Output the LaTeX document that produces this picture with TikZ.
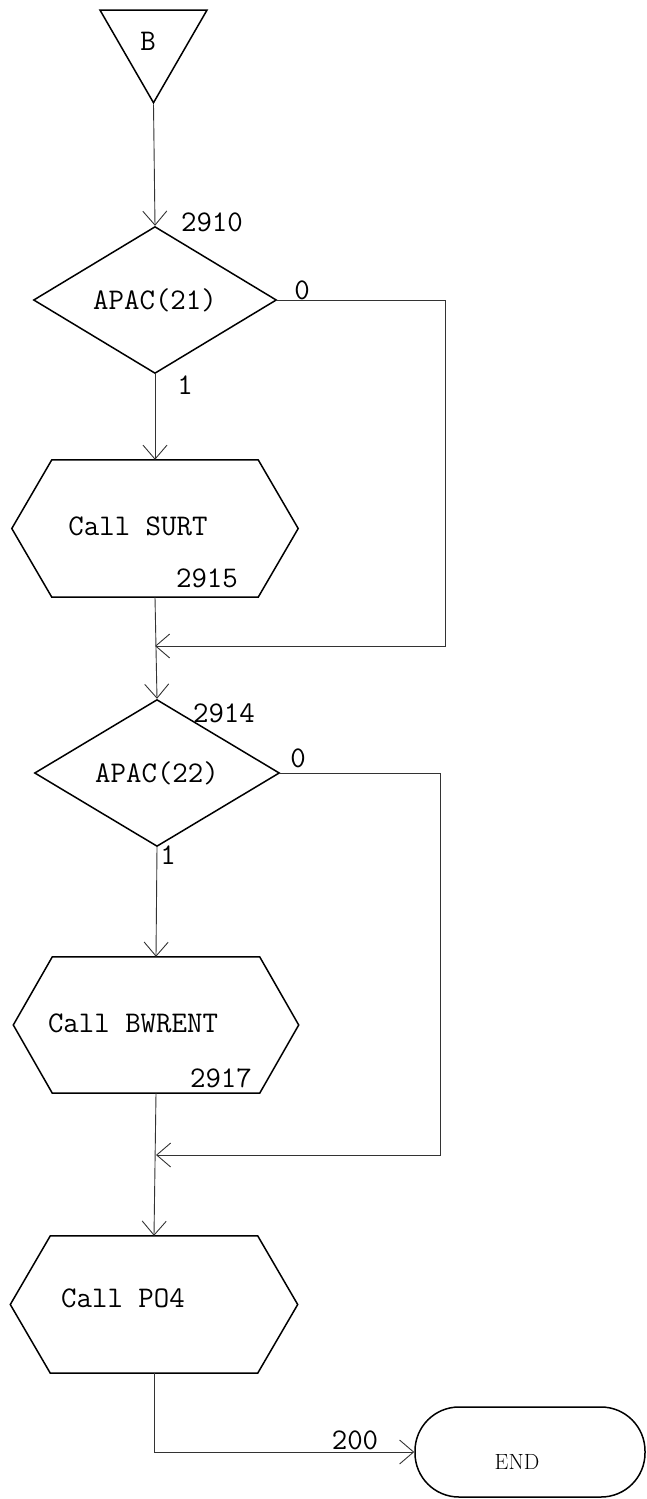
\documentclass[tikz,border=0pt]{standalone}
\usetikzlibrary{shapes.geometric,arrows.meta,calc}
\tikzset{
  shapeline/.style={draw=black, line width=1.5pt, line join=miter},
  conn/.style={draw=black!80, line width=0.9pt},
  arr/.style={conn, -{Straight Barb[length=14pt,width=24pt,line width=0.9pt]}},
  tt/.style={font=\fontsize{30}{32}\selectfont\ttfamily, inner sep=0pt},
  decision/.style={shapeline, diamond, inner sep=0pt, tt},
  hexbox/.style={rectangle, inner sep=0pt},
  terminal/.style={shapeline, rectangle, rounded corners=44pt, minimum width=230pt, minimum height=90pt},
  offpage/.style={shapeline, regular polygon, regular polygon sides=3, shape border rotate=180, minimum size=123.5pt, inner sep=0pt}
}
\newcommand{\hexagonpath}[2]{%
  \draw[shapeline] (#1.north west) -- (#1.north east) -- ([xshift=#2]#1.east)
    -- (#1.south east) -- (#1.south west) -- ([xshift=-#2]#1.west) -- cycle;}
\begin{document}
\begin{tikzpicture}[x=1pt,y=-1pt]
\useasboundingbox (0,0) rectangle (647,1499);

% off-page connector B
\node[offpage] (tri) at (153.5,41) {};
\node[tt] (tB) at (148,41) {B};

% decision 1
\node[decision, minimum width=243pt, minimum height=140pt] (d1) at (155,300) {APAC(21)};
\node[tt] (n2910) at (212,222) {2910};
\node[tt] (z1) at (302,290) {0};
\node[tt] (o1) at (185,385) {1};

% process 1
\node[hexbox, minimum width=206pt, minimum height=137pt] (h1) at (155,528.5) {};
\hexagonpath{h1}{40pt}
\node[tt] (t1) at (138,526) {Call SURT};
\node[tt] (n2915) at (207,578) {2915};

% decision 2
\node[decision, minimum width=245pt, minimum height=140pt] (d2) at (157,773) {APAC(22)};
\node[tt] (n2914) at (224,713) {2914};
\node[tt] (z2) at (298,758) {0};
\node[tt] (o2) at (168,855) {1};

% process 2
\node[hexbox, minimum width=207pt, minimum height=136pt] (h2) at (156,1025) {};
\hexagonpath{h2}{39pt}
\node[tt] (t2) at (133,1023) {Call BWRENT};
\node[tt] (n2917) at (221,1078) {2917};

% process 3
\node[hexbox, minimum width=207pt, minimum height=137pt] (h3) at (154,1304.5) {};
\hexagonpath{h3}{40pt}
\node[tt] (t3) at (123,1298) {Call PO4};

% terminal
\node[terminal] (endn) at (530,1452) {};
\node[font=\fontsize{22}{24}\selectfont\rmfamily, inner sep=0pt] (endt) at (517,1462) {END};
\node[tt] (n200) at (355,1440) {200};

% merge coordinates
\coordinate (c1) at (445,646);
\coordinate (m1) at (155,646);
\coordinate (c2) at (440,1155);
\coordinate (m2) at (156,1155);

% connectors
\draw[arr] (tri.south) -- (d1.north);
\draw[arr] (d1.south) -- (h1.north);
\draw[arr] (d1.east) -| (c1) -- (m1);
\draw[arr] (h1.south) -- (d2.north);
\draw[arr] (d2.south) -- (h2.north);
\draw[arr] (d2.east) -| (c2) -- (m2);
\draw[arr] (h2.south) -- (h3.north);
\draw[arr] (h3.south) |- (endn.west);
\end{tikzpicture}
\end{document}
